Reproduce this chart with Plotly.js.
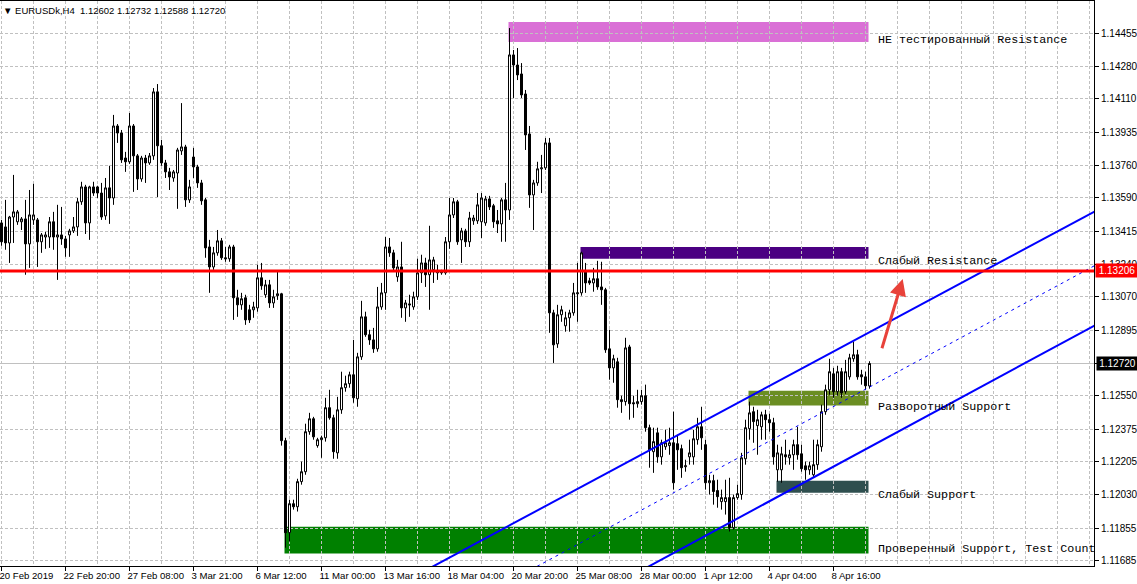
<!DOCTYPE html>
<html><head><meta charset="utf-8">
<script src="https://cdn.plot.ly/plotly-3.0.1.min.js"></script>
<style>html,body{margin:0;padding:0;background:#fff;overflow:hidden}#chart{width:1137px;height:584px}</style>
</head><body><div id="chart"></div>
<script>
// ---- data (EURUSDk, H4) ----
const openP = [1.13458,1.13437,1.13353,1.13489,1.13464,1.13464,1.13479,1.13348,1.13474,1.13474,1.13359,1.13384,1.13384,1.13464,1.13384,1.13395,1.13374,1.13395,1.13416,1.13437,1.13569,1.13647,1.13458,1.13647,1.13647,1.13615,1.13495,1.13642,1.13589,1.13967,1.13930,1.13799,1.13779,1.13967,1.13810,1.13689,1.13799,1.13773,1.13810,1.14146,1.13863,1.13773,1.13726,1.13694,1.13720,1.13836,1.13857,1.13579,1.13804,1.13752,1.13668,1.13579,1.13332,1.13227,1.13301,1.13364,1.13275,1.13270,1.13332,1.13065,1.13028,1.13065,1.13002,1.13002,1.13012,1.13170,1.13081,1.13133,1.13038,1.13076,1.13086,1.12315,1.11832,1.11984,1.11968,1.12100,1.12152,1.12362,1.12430,1.12289,1.12320,1.12330,1.12488,1.12435,1.12251,1.12477,1.12593,1.12614,1.12661,1.12535,1.12755,1.12965,1.12871,1.12844,1.12797,1.13017,1.13091,1.13332,1.13301,1.13175,1.13227,1.13012,1.13033,1.13017,1.13070,1.13196,1.13248,1.13186,1.13212,1.13196,1.13196,1.13196,1.13359,1.13500,1.13569,1.13369,1.13416,1.13359,1.13469,1.13469,1.13464,1.13458,1.13584,1.13548,1.13469,1.13453,1.13579,1.13526,1.14340,1.14287,1.14240,1.14135,1.13925,1.13605,1.13668,1.13742,1.13747,1.13878,1.12986,1.12823,1.12976,1.12918,1.12960,1.12986,1.13086,1.13091,1.13202,1.13154,1.13143,1.13165,1.13122,1.13107,1.12797,1.12697,1.12729,1.12530,1.12520,1.12807,1.12514,1.12509,1.12520,1.12551,1.12383,1.12257,1.12356,1.12230,1.12283,1.12289,1.12304,1.12299,1.12273,1.12178,1.12230,1.12230,1.12320,1.12388,1.12294,1.12094,1.12105,1.12053,1.11995,1.11995,1.12016,1.11858,1.12016,1.12032,1.12220,1.12378,1.12467,1.12394,1.12388,1.12451,1.12425,1.12409,1.12162,1.12162,1.12241,1.12225,1.12241,1.12294,1.12246,1.12183,1.12162,1.12136,1.12189,1.12283,1.12467,1.12582,1.12666,1.12572,1.12677,1.12572,1.12650,1.12745,1.12766,1.12661,1.12650,1.12602];
const highP = [1.13474,1.13579,1.13495,1.13710,1.13526,1.13489,1.13579,1.13631,1.13663,1.13484,1.13405,1.13411,1.13489,1.13516,1.13553,1.13542,1.13390,1.13427,1.13489,1.13589,1.13674,1.13658,1.13653,1.13674,1.13653,1.13668,1.13694,1.13758,1.14025,1.13977,1.13946,1.13831,1.14035,1.13977,1.13820,1.13810,1.13815,1.13825,1.14166,1.14187,1.13894,1.13789,1.13747,1.13736,1.13852,1.14087,1.13868,1.13684,1.13852,1.13763,1.13684,1.13589,1.13369,1.13332,1.13421,1.13379,1.13332,1.13343,1.13343,1.13107,1.13091,1.13081,1.13028,1.13044,1.13238,1.13248,1.13159,1.13159,1.13107,1.13202,1.13091,1.12330,1.12005,1.12005,1.12115,1.12205,1.12404,1.12461,1.12440,1.12330,1.12341,1.12540,1.12582,1.12451,1.12545,1.12677,1.12656,1.12677,1.12844,1.12776,1.13049,1.12992,1.12897,1.12907,1.13122,1.13143,1.13384,1.13379,1.13317,1.13264,1.13359,1.13054,1.13081,1.13097,1.13270,1.13291,1.13275,1.13443,1.13280,1.13238,1.13212,1.13384,1.13589,1.13589,1.13579,1.13432,1.13427,1.13516,1.13500,1.13615,1.13615,1.13600,1.13600,1.13558,1.13526,1.13589,1.13668,1.14481,1.14366,1.14376,1.14297,1.14156,1.13967,1.13684,1.13779,1.13815,1.13904,1.13904,1.13002,1.13028,1.13023,1.12992,1.13002,1.13143,1.13248,1.13307,1.13248,1.13170,1.13222,1.13259,1.13254,1.13117,1.12897,1.12766,1.12750,1.12551,1.12855,1.12818,1.12551,1.12582,1.12582,1.12609,1.12399,1.12383,1.12383,1.12320,1.12372,1.12383,1.12467,1.12346,1.12294,1.12215,1.12320,1.12372,1.12435,1.12493,1.12320,1.12136,1.12136,1.12110,1.12058,1.12110,1.12120,1.12032,1.12084,1.12251,1.12425,1.12520,1.12493,1.12477,1.12467,1.12477,1.12456,1.12435,1.12294,1.12283,1.12320,1.12267,1.12320,1.12388,1.12294,1.12205,1.12205,1.12320,1.12320,1.12504,1.12609,1.12745,1.12697,1.12708,1.12697,1.12739,1.12771,1.12834,1.12792,1.12687,1.12677,1.12732];
const lowP = [1.13338,1.13317,1.13248,1.13353,1.13448,1.13421,1.13186,1.13222,1.13448,1.13227,1.13301,1.13322,1.13327,1.13317,1.13159,1.13343,1.13280,1.13280,1.13405,1.13390,1.13553,1.13400,1.13369,1.13600,1.13589,1.13474,1.13474,1.13453,1.13553,1.13878,1.13773,1.13726,1.13768,1.13621,1.13631,1.13674,1.13668,1.13763,1.13789,1.13594,1.13758,1.13694,1.13631,1.13674,1.13532,1.13815,1.13542,1.13563,1.13694,1.13642,1.13553,1.13275,1.13091,1.13212,1.13286,1.13264,1.13254,1.13254,1.12949,1.12965,1.13002,1.12923,1.12933,1.12960,1.12992,1.13107,1.13065,1.13012,1.13012,1.13054,1.12289,1.11753,1.11785,1.11953,1.11943,1.12084,1.12136,1.12346,1.12320,1.12278,1.12225,1.12310,1.12425,1.12220,1.12220,1.12456,1.12572,1.12593,1.12514,1.12493,1.12739,1.12860,1.12818,1.12776,1.12782,1.13002,1.13002,1.13280,1.13202,1.13149,1.12960,1.12939,1.12965,1.13002,1.13054,1.13143,1.13122,1.13002,1.13143,1.13159,1.13186,1.13186,1.13322,1.13484,1.13343,1.13248,1.13332,1.13332,1.13448,1.13453,1.13379,1.13443,1.13526,1.13432,1.13405,1.13359,1.13359,1.13474,1.14114,1.14208,1.14114,1.13841,1.13537,1.13421,1.13653,1.13615,1.13736,1.12881,1.12723,1.12802,1.12939,1.12887,1.12887,1.12971,1.12939,1.13076,1.13091,1.13133,1.13097,1.13107,1.13028,1.12776,1.12635,1.12619,1.12488,1.12461,1.12499,1.12425,1.12435,1.12488,1.12504,1.12362,1.12173,1.12146,1.12199,1.12189,1.12267,1.12241,1.12058,1.12162,1.12120,1.12152,1.12189,1.12189,1.12294,1.12267,1.12058,1.12032,1.11979,1.11963,1.11953,1.11927,1.11838,1.11848,1.12005,1.12005,1.12189,1.12320,1.12304,1.12241,1.12320,1.12320,1.12362,1.12189,1.12100,1.12094,1.12189,1.12189,1.12162,1.12215,1.12152,1.12110,1.12136,1.12120,1.12162,1.12257,1.12451,1.12556,1.12540,1.12551,1.12540,1.12561,1.12635,1.12729,1.12635,1.12609,1.12582,1.12588];
const closeP = [1.13359,1.13353,1.13489,1.13516,1.13516,1.13479,1.13348,1.13500,1.13500,1.13359,1.13395,1.13395,1.13464,1.13384,1.13395,1.13374,1.13327,1.13416,1.13437,1.13569,1.13647,1.13458,1.13647,1.13615,1.13615,1.13489,1.13642,1.13589,1.13967,1.13930,1.13789,1.13779,1.13967,1.13810,1.13689,1.13799,1.13773,1.13810,1.14146,1.13863,1.13773,1.13726,1.13699,1.13726,1.13841,1.13857,1.13579,1.13647,1.13752,1.13668,1.13574,1.13327,1.13227,1.13301,1.13364,1.13275,1.13270,1.13332,1.13065,1.13028,1.13060,1.12949,1.12949,1.13017,1.13170,1.13128,1.13133,1.13038,1.13070,1.13086,1.12315,1.11832,1.11984,1.11968,1.12100,1.12152,1.12362,1.12430,1.12335,1.12320,1.12330,1.12488,1.12435,1.12257,1.12477,1.12593,1.12614,1.12661,1.12540,1.12755,1.12965,1.12871,1.12844,1.12797,1.13017,1.13091,1.13332,1.13301,1.13222,1.13227,1.13012,1.13038,1.13028,1.13070,1.13196,1.13248,1.13186,1.13264,1.13264,1.13207,1.13202,1.13359,1.13500,1.13569,1.13359,1.13416,1.13359,1.13484,1.13484,1.13553,1.13589,1.13584,1.13542,1.13464,1.13453,1.13579,1.13526,1.14340,1.14287,1.14235,1.14130,1.13920,1.13605,1.13668,1.13742,1.13747,1.13878,1.12986,1.12818,1.12976,1.13002,1.12960,1.12986,1.13091,1.13091,1.13301,1.13143,1.13143,1.13165,1.13122,1.13107,1.12792,1.12697,1.12745,1.12530,1.12520,1.12802,1.12509,1.12509,1.12520,1.12551,1.12383,1.12267,1.12310,1.12230,1.12304,1.12304,1.12304,1.12094,1.12267,1.12173,1.12183,1.12251,1.12325,1.12388,1.12330,1.12094,1.12105,1.12048,1.12021,1.12016,1.12016,1.11858,1.12016,1.12037,1.12225,1.12383,1.12461,1.12415,1.12425,1.12451,1.12425,1.12409,1.12230,1.12251,1.12246,1.12230,1.12241,1.12294,1.12241,1.12168,1.12162,1.12183,1.12189,1.12294,1.12467,1.12582,1.12677,1.12572,1.12677,1.12566,1.12677,1.12750,1.12766,1.12650,1.12650,1.12603,1.12720];

const timeLabels = ['20 Feb 2019','22 Feb 20:00','27 Feb 08:00','3 Mar 21:00','6 Mar 12:00','11 Mar 00:00','13 Mar 16:00','18 Mar 04:00','20 Mar 20:00','25 Mar 08:00','28 Mar 00:00','1 Apr 12:00','4 Apr 04:00','8 Apr 16:00'];
const timeLabelBars = [0,16,32,48,64,80,96,112,128,144,160,176,192,208];
const priceLabels = [1.14455,1.14280,1.14110,1.13935,1.13760,1.13590,1.13415,1.13240,1.13070,1.12895,1.12720,1.12550,1.12375,1.12205,1.12030,1.11855,1.11685];

const redLevel = 1.13206;
const lastPrice = 1.12720;

// support / resistance zones
const zoneNames = ['НЕ тестированный Resistance','Слабый Resistance','Разворотный Support','Слабый Support','Проверенный Support, Test Count'];
const zoneStartBar = [127,145,187,194,71];
const zoneEndBar = [217,217,217,217,217];
const zoneTop = [1.14513,1.13332,1.12577,1.12105,1.11863];
const zoneBottom = [1.14408,1.13270,1.12499,1.12042,1.11722];
const zoneColors = ['#DA70D6','#4B0082','#6B8E23','#2F4F4F','#008000'];
const zoneLabelShift = [2,-2,-1,-2,5];

// trend channel
const channelBars = [100,280];
const channelUpper = [1.11566,1.13594];
const channelMiddle = [1.11271,1.13310];
const channelLower = [1.10953,1.12996];

// arrow (tail -> head)
const arrowBars = [220,225.3];
const arrowPrices = [1.12792,1.13163];

// ---- chart ----
const bars = openP.map((_, i) => i);
const UI_FONT = 'Liberation Sans, Arial, sans-serif';

const traces = [
  {
    type: 'candlestick', x: bars, open: openP, high: highP, low: lowP, close: closeP,
    increasing: {line: {color: '#000000', width: 1}, fillcolor: '#ffffff'},
    decreasing: {line: {color: '#000000', width: 1}, fillcolor: '#000000'},
    whiskerwidth: 0, hoverinfo: 'skip', showlegend: false
  },
  {type: 'scatter', mode: 'lines', x: channelBars, y: channelMiddle,
   line: {color: '#0000ff', width: 1, dash: '3px,4px'}, hoverinfo: 'skip'},
  {type: 'scatter', mode: 'lines', x: channelBars, y: channelUpper,
   line: {color: '#0000ff', width: 2}, hoverinfo: 'skip'},
  {type: 'scatter', mode: 'lines', x: channelBars, y: channelLower,
   line: {color: '#0000ff', width: 2}, hoverinfo: 'skip'}
];

const gridBars = [];
for (let b = 0; b <= 272; b += 8) gridBars.push(b);

const shapes = [];
zoneNames.forEach((n, i) => {
  shapes.push({type: 'rect', xref: 'x', yref: 'y', x0: zoneStartBar[i] - 0.25, x1: zoneEndBar[i] - 0.25,
    y0: zoneBottom[i], y1: zoneTop[i], fillcolor: zoneColors[i], line: {width: 0}, layer: 'below'});
});
shapes.push({type: 'line', xref: 'paper', yref: 'y', x0: 0, x1: 1, y0: lastPrice, y1: lastPrice,
  line: {color: '#c0c0c0', width: 1}, layer: 'between'});
shapes.push({type: 'line', xref: 'paper', yref: 'y', x0: 0, x1: 1, y0: redLevel, y1: redLevel,
  line: {color: '#ff0000', width: 3}, layer: 'above'});

const annotations = [];
zoneNames.forEach((n, i) => {
  annotations.push({xref: 'x', yref: 'y', x: 218.7, y: zoneBottom[i], xanchor: 'left', yanchor: 'middle',
    yshift: zoneLabelShift[i], text: n, showarrow: false,
    font: {family: 'Liberation Mono, Courier New, monospace', size: 11.7, color: '#000000'}});
});
annotations.push({xref: 'x', yref: 'y', axref: 'x', ayref: 'y', x: arrowBars[1], y: arrowPrices[1],
  ax: arrowBars[0], ay: arrowPrices[0], text: '', showarrow: true, arrowhead: 2, arrowsize: 1.1,
  arrowwidth: 3, arrowcolor: '#e8423a'});
annotations.push({xref: 'paper', yref: 'y', x: 1, y: redLevel, xanchor: 'left', yanchor: 'middle', xshift: 1,
  text: redLevel.toFixed(5), showarrow: false, bgcolor: '#ff0000', borderpad: 1, width: 40, height: 11,
  font: {family: UI_FONT, size: 10, color: '#ffffff'}});
annotations.push({xref: 'paper', yref: 'y', x: 1, y: lastPrice, xanchor: 'left', yanchor: 'middle', xshift: 2,
  text: lastPrice.toFixed(5), showarrow: false, bgcolor: '#000000', borderpad: 1, width: 39, height: 11,
  font: {family: UI_FONT, size: 10, color: '#ffffff'}});
annotations.push({xref: 'paper', yref: 'paper', x: 0, y: 1, xanchor: 'left', yanchor: 'top', xshift: 1, yshift: -2,
  text: '▼ EURUSDk,H4\u00a0\u00a0' + [openP[openP.length-1], highP[highP.length-1], lowP[lowP.length-1], closeP[closeP.length-1]].map(v => v.toFixed(5)).join(' '),
  showarrow: false, font: {family: UI_FONT, size: 9.5, color: '#000000'}});

const gridStyle = {showgrid: true, gridcolor: '#c0c0c0', gridwidth: 1, griddash: '3px,2px'};

const layout = {
  width: 1137, height: 584,
  margin: {l: 0, r: 43, t: 1, b: 18, pad: 0},
  paper_bgcolor: '#ffffff', plot_bgcolor: '#ffffff',
  showlegend: false, boxgap: 0.5, boxgroupgap: 0,
  xaxis: Object.assign({
    range: [-0.375, 273.125], tickmode: 'array', tickvals: timeLabelBars, ticktext: timeLabels,
    tickangle: 0, automargin: false, ticklabelshift: -3, ticklabeloverflow: 'allow',
    ticks: 'outside', ticklen: 4, tickcolor: '#000000', tickwidth: 1,
    ticklabelposition: 'outside right',
    showline: true, linecolor: '#000000', linewidth: 1, mirror: true,
    zeroline: false, rangeslider: {visible: false}, fixedrange: true,
    tickfont: {family: UI_FONT, size: 9.6, color: '#000000'},
    minor: {tickmode: 'array', tickvals: gridBars, showgrid: true, gridcolor: '#c0c0c0', griddash: '3px,2px', ticks: ''}
  }, gridStyle),
  yaxis: Object.assign({
    side: 'right', range: [1.11657, 1.14623], tickmode: 'array', tickvals: priceLabels,
    ticktext: priceLabels.map(v => v.toFixed(5)), automargin: false,
    ticks: 'outside', ticklen: 4, tickcolor: '#000000', tickwidth: 1,
    showline: true, linecolor: '#000000', linewidth: 1,
    zeroline: false, fixedrange: true,
    tickfont: {family: UI_FONT, size: 10, color: '#000000'}
  }, gridStyle),
  shapes: shapes,
  annotations: annotations
};

Plotly.newPlot('chart', traces, layout, {staticPlot: true, displayModeBar: false});
</script>
</body></html>
